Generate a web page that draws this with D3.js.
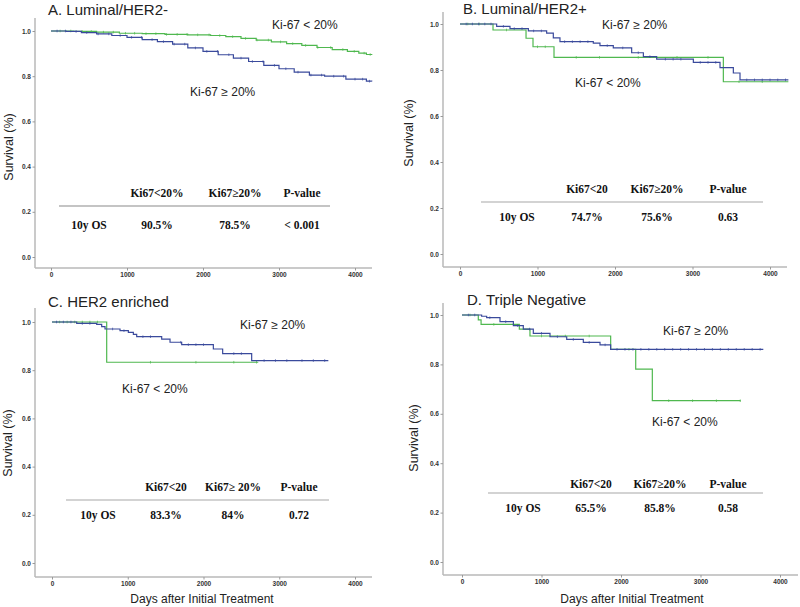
<!DOCTYPE html>
<html>
<head>
<meta charset="utf-8">
<script src="https://cdn.jsdelivr.net/npm/d3@7"></script>
<style>
  body { margin: 0; background: #fff; }
  svg { display: block; }
</style>
</head>
<body>
<script>
// Kaplan-Meier knots: [days, survival]
const aLow = [[0,1],[300,0.998],[600,0.995],[900,0.99],[1200,0.988],[1500,0.985],[1800,0.983],[2100,0.98],[2300,0.975],[2500,0.967],[2700,0.96],[2900,0.952],[3100,0.944],[3300,0.936],[3500,0.927],[3700,0.918],[3900,0.91],[4050,0.902],[4150,0.896],[4220,0.894]];
const aHigh = [[0,1],[200,0.998],[400,0.993],[600,0.987],[800,0.98],[1000,0.972],[1200,0.962],[1400,0.953],[1600,0.942],[1800,0.925],[2000,0.91],[2200,0.895],[2400,0.88],[2600,0.865],[2800,0.848],[3000,0.833],[3200,0.818],[3400,0.805],[3600,0.8],[3880,0.787],[4150,0.778],[4220,0.776]];
const bLow = [[0,1],[426,0.974],[852,0.938],[942,0.901],[1213,0.855],[3398,0.749],[4237,0.749]];
const bHigh = [[0,1],[473,0.99],[645,0.98],[882,0.97],[1118,0.96],[1204,0.94],[1290,0.923],[1720,0.917],[1806,0.906],[1978,0.896],[2215,0.875],[2366,0.858],[2538,0.847],[3011,0.833],[3355,0.81],[3527,0.787],[3613,0.757],[4237,0.757]];
const cLow = [[0,1],[722,0.833],[2723,0.833]];
const cHigh = [[0,1],[326,0.994],[590,0.99],[656,0.981],[700,0.971],[898,0.964],[1008,0.957],[1074,0.949],[1118,0.939],[1448,0.929],[1558,0.916],[1712,0.906],[2130,0.888],[2253,0.869],[2636,0.84],[3648,0.84]];
const dLow = [[0,1],[205,0.98],[240,0.962],[721,0.943],[855,0.915],[1870,0.861],[2185,0.781],[2394,0.653],[3505,0.653]];
const dHigh = [[0,1],[247,0.995],[310,0.989],[478,0.973],[646,0.957],[771,0.943],[897,0.926],[1107,0.912],[1317,0.901],[1526,0.889],[1736,0.879],[1870,0.861],[3790,0.861]];

// censoring times (days)
const aLowCens = [120,260,410,530,690,820,980,1100,1250,1380,1520,1660,1790,1930,2080,2220,2390,2560,2710,2860,3020,3180,3350,3510,3680,3840,3990,4120,4200];
const aHighCens = [80,190,330,470,620,760,910,1060,1190,1330,1480,1620,1760,1900,2050,2190,2340,2500,2650,2790,2940,3090,3250,3420,3560,3720,3850,4000,4100,4190];
const bLowCens = [100,250,600,1000,1100,1500,1800,2300,2800,3200,3600,3900];
const bHighCens = [80,160,240,320,400,560,700,800,950,1050,1350,1450,1550,1650,1900,2100,2300,2450,2650,2750,2850,3100,3200,3300,3700,3800,3900,4000,4100,4200];
const cLowCens = [100,200,300,400,500,600,1300,1900,2400,2700];
const cHighCens = [60,150,250,400,500,800,950,1200,1300,1700,1800,1900,2000,2400,2500,2800,2950,3100,3300,3450,3600];
const dLowCens = [100,400,1000,1300,1600,2100,2600,2900,3200,3500];
const dHighCens = [80,160,350,550,700,850,1000,1200,1400,1600,1800,1950,2050,2150,2250,2350,2450,2550,2650,2750,2850,2950,3050,3150,3250,3350,3450,3550,3650,3750];

const titles = ["A. Luminal/HER2-", "B. Luminal/HER2+", "C. HER2 enriched", "D. Triple Negative"];
const tableHeads = [
  ["Ki67<20%", "Ki67\u226520%", "P-value"],
  ["Ki67<20", "Ki67\u226520%", "P-value"],
  ["Ki67<20", "Ki67\u2265 20%", "P-value"],
  ["Ki67<20", "Ki67\u226520%", "P-value"]
];
const tableRows = [
  ["10y OS", "90.5%", "78.5%", "< 0.001"],
  ["10y OS", "74.7%", "75.6%", "0.63"],
  ["10y OS", "83.3%", "84%", "0.72"],
  ["10y OS", "65.5%", "85.8%", "0.58"]
];
const xTicks = [0, 1000, 2000, 3000, 4000];
const yTicks = [0, 0.2, 0.4, 0.6, 0.8, 1.0];
const lowLabel = "Ki-67 < 20%";
const highLabel = "Ki-67 \u2265 20%";

// label anchor points in data units [days, survival]
const lowLabelPos = [[2908, 1.027], [1484, 0.743], [924, 0.722], [2390, 0.567]];
const highLabelPos = [[1829, 0.730], [1832, 0.996], [2482, 0.988], [2528, 0.935]];

const width = 800, height = 607;
const green = "#4fb84f", blue = "#3a4a9c";

// pixel layout of each panel
const layout = [
  {left: 35, right: 372, top: 18, bottom: 268, x0: 51, x4: 355, y0: 257, y1: 31,
   title: [48, 15], ylab: [9, 147], cols: [89, 157, 235, 302], head: 193, rule: 206, ruleX: [59, 330], row: 225, xlab: null},
  {left: 443, right: 787, top: 12, bottom: 267, x0: 460, x4: 770, y0: 254, y1: 24,
   title: [463, 14], ylab: [409, 133], cols: [517, 587, 657, 728], head: 189, rule: 202, ruleX: [481, 763], row: 217, xlab: null},
  {left: 35, right: 372, top: 308, bottom: 577, x0: 52, x4: 355, y0: 563, y1: 322,
   title: [48, 307], ylab: [8, 443], cols: [98, 166, 233, 299], head: 487, rule: 500, ruleX: [66, 329], row: 515, xlab: [202, 599]},
  {left: 443, right: 798, top: 303, bottom: 575, x0: 462, x4: 780, y0: 562, y1: 315,
   title: [467, 305], ylab: [414, 438], cols: [523, 591, 660, 728], head: 484, rule: 493, ruleX: [488, 763], row: 508, xlab: [632, 599]}
];

const curves = [
  {low: aLow, high: aHigh, lowC: aLowCens, highC: aHighCens},
  {low: bLow, high: bHigh, lowC: bLowCens, highC: bHighCens},
  {low: cLow, high: cHigh, lowC: cLowCens, highC: cHighCens},
  {low: dLow, high: dHigh, lowC: dLowCens, highC: dHighCens}
];

const svg = d3.select("body").append("svg")
    .attr("width", width)
    .attr("height", height)
    .style("font-family", "'Liberation Sans', Arial, sans-serif");

const bis = d3.bisector(d => d[0]).right;
const survAt = (pts, t) => pts[Math.max(0, bis(pts, t) - 1)][1];

curves.forEach((c, i) => {
  const L = layout[i];
  const x = d3.scaleLinear().domain([0, 4000]).range([L.x0, L.x4]);
  const y = d3.scaleLinear().domain([0, 1]).range([L.y0, L.y1]);
  const g = svg.append("g");

  // axis frame
  g.append("line").attr("x1", L.left).attr("x2", L.left).attr("y1", L.top).attr("y2", L.bottom)
      .attr("stroke", "#b8b8b8").attr("stroke-width", 1.5);
  g.append("line").attr("x1", L.left).attr("x2", L.right).attr("y1", L.bottom).attr("y2", L.bottom)
      .attr("stroke", "#b8b8b8").attr("stroke-width", 1.5);

  const ya = g.append("g").attr("transform", `translate(${L.left},0)`)
      .call(d3.axisLeft(y).tickValues(yTicks).tickSize(2.5).tickPadding(1.5).tickFormat(d3.format(".1f")));
  const xa = g.append("g").attr("transform", `translate(0,${L.bottom})`)
      .call(d3.axisBottom(x).tickValues(xTicks).tickSize(2.5).tickPadding(2).tickFormat(d3.format("d")));
  [ya, xa].forEach(a => {
    a.select(".domain").remove();
    a.selectAll(".tick line").attr("stroke", "#999");
    a.selectAll(".tick text").attr("fill", "#333").style("font-size", "6.5px").style("font-weight", "bold");
  });

  const line = d3.line().x(d => x(d[0])).y(d => y(d[1])).curve(d3.curveStepAfter);
  [[c.low, c.lowC, green], [c.high, c.highC, blue]].forEach(([pts, cens, col]) => {
    g.append("path").datum(pts)
        .attr("fill", "none").attr("stroke", col).attr("stroke-width", 1.2).attr("d", line);
    g.selectAll(null).data(cens.filter(t => t <= pts[pts.length - 1][0])).join("line")
        .attr("x1", t => x(t)).attr("x2", t => x(t))
        .attr("y1", t => y(survAt(pts, t)) - 1.3).attr("y2", t => y(survAt(pts, t)) + 1.3)
        .attr("stroke", col).attr("stroke-width", 0.7);
  });

  // group labels
  [[lowLabel, lowLabelPos[i]], [highLabel, highLabelPos[i]]].forEach(([txt, p]) => {
    g.append("text").attr("x", x(p[0])).attr("y", y(p[1])).attr("dy", "0.35em")
        .style("font-size", "12px").attr("fill", "#222").text(txt);
  });

  // title
  g.append("text").attr("x", L.title[0]).attr("y", L.title[1])
      .style("font-size", "15px").attr("fill", "#222").text(titles[i]);

  // y label
  g.append("text").attr("transform", `translate(${L.ylab[0]},${L.ylab[1]}) rotate(-90)`)
      .attr("text-anchor", "middle").attr("dy", "0.35em")
      .style("font-size", "12.5px").attr("fill", "#222").text("Survival (%)");

  if (L.xlab) {
    g.append("text").attr("x", L.xlab[0]).attr("y", L.xlab[1]).attr("dy", "0.35em")
        .attr("text-anchor", "middle").style("font-size", "12px").attr("fill", "#222")
        .text("Days after Initial Treatment");
  }

  // summary table
  const tg = g.append("g").style("font-family", "'Liberation Serif', 'Times New Roman', serif")
      .style("font-weight", "bold").style("font-size", "11.5px").attr("fill", "#111")
      .attr("text-anchor", "middle");
  tg.selectAll(null).data(tableHeads[i]).join("text")
      .attr("x", (d, j) => L.cols[j + 1]).attr("y", L.head).attr("dy", "0.35em").text(d => d);
  tg.append("line").attr("x1", L.ruleX[0]).attr("x2", L.ruleX[1]).attr("y1", L.rule).attr("y2", L.rule)
      .attr("stroke", "#c4c4c4").attr("stroke-width", i === 0 ? 2 : 1.3);
  tg.selectAll(null).data(tableRows[i]).join("text")
      .attr("x", (d, j) => L.cols[j]).attr("y", L.row).attr("dy", "0.35em").text(d => d);
});
</script>
</body>
</html>
